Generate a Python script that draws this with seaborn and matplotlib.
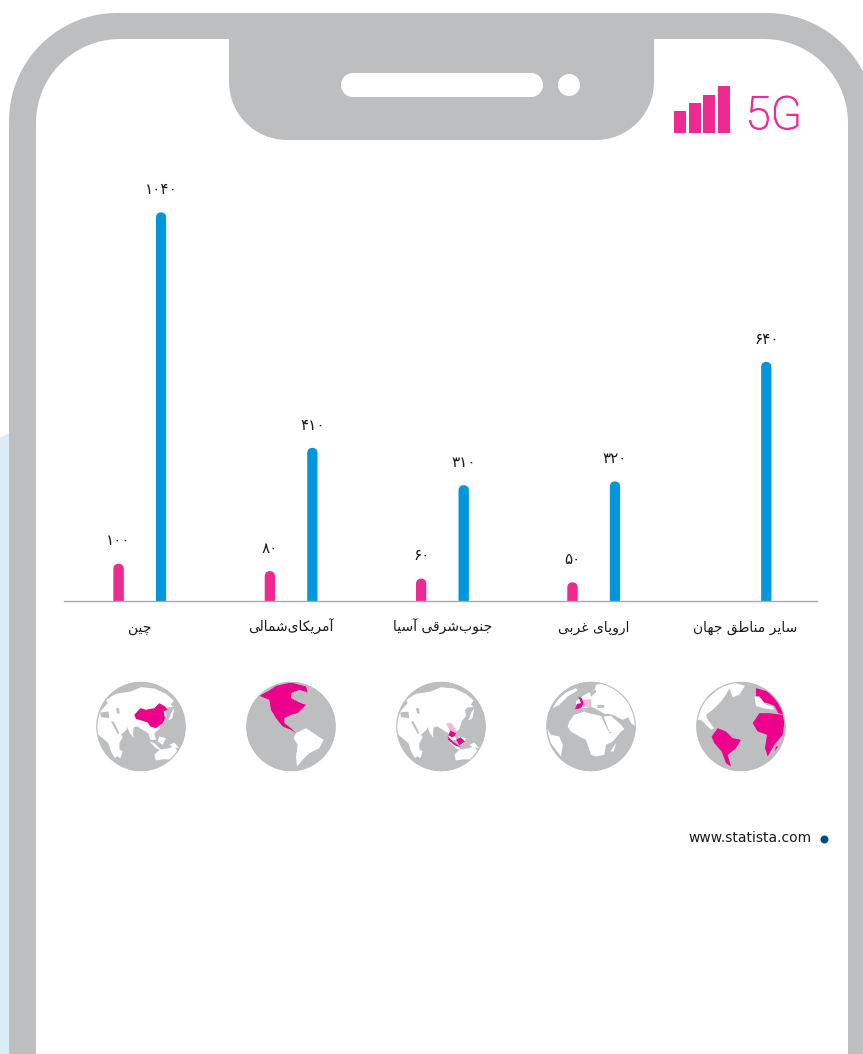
import numpy as np
import pandas as pd
import seaborn as sns
from matplotlib import patheffects
from matplotlib import pyplot as plt
from matplotlib.patches import Circle, Polygon, Rectangle
from matplotlib.transforms import IdentityTransform

regions = ["چین", "آمریکای\u200cشمالی", "جنوب\u200cشرقی آسیا", "اروپای غربی", "سایر مناطق جهان"]
series = ["current", "forecast"]
current_values = [100, 80, 60, 50, np.nan]
forecast_values = [1040, 410, 310, 320, 640]

GRAY = "#bcbec0"
PINK = "#ee2a91"
BLUE = "#0096dc"
GLOBE_PINK = "#ec008c"
FADE_PINK = "#f8b4d9"

# isolated, final, initial, medial presentation forms
FORMS = {
    "ا": "\ufe8d\ufe8e\ufe8d\ufe8e", "آ": "\ufe81\ufe82\ufe81\ufe82",
    "ب": "\ufe8f\ufe90\ufe91\ufe92", "پ": "\ufb56\ufb57\ufb58\ufb59",
    "ج": "\ufe9d\ufe9e\ufe9f\ufea0", "چ": "\ufb7a\ufb7b\ufb7c\ufb7d",
    "ر": "\ufead\ufeae\ufead\ufeae", "س": "\ufeb1\ufeb2\ufeb3\ufeb4",
    "ش": "\ufeb5\ufeb6\ufeb7\ufeb8", "ط": "\ufec1\ufec2\ufec3\ufec4",
    "غ": "\ufecd\ufece\ufecf\ufed0", "ق": "\ufed5\ufed6\ufed7\ufed8",
    "ک": "\ufb8e\ufb8f\ufb90\ufb91", "ل": "\ufedd\ufede\ufedf\ufee0",
    "م": "\ufee1\ufee2\ufee3\ufee4", "ن": "\ufee5\ufee6\ufee7\ufee8",
    "ه": "\ufee9\ufeea\ufeeb\ufeec", "و": "\ufeed\ufeee\ufeed\ufeee",
    "ی": "\ufbfc\ufbfd\ufbfe\ufbff",
}
RIGHT_ONLY = "اآرو"
DIGITS = str.maketrans("0123456789", "۰۱۲۳۴۵۶۷۸۹")


def shape(text):
    # matplotlib has no bidi or joining, so pick the forms and reverse by hand
    out = []
    for i, ch in enumerate(text):
        if ch not in FORMS:
            if ch != "\u200c":
                out.append(ch)
            continue
        prev_ch = text[i - 1] if i > 0 else " "
        next_ch = text[i + 1] if i < len(text) - 1 else " "
        joins_prev = prev_ch in FORMS and prev_ch not in RIGHT_ONLY
        joins_next = next_ch in FORMS and ch not in RIGHT_ONLY
        out.append(FORMS[ch][{(0, 0): 0, (1, 0): 1, (0, 1): 2, (1, 1): 3}[(int(joins_prev), int(joins_next))]])
    return "".join(reversed(out))


def persian_number(value):
    return str(int(value)).translate(DIGITS)


def arc(cx, cy, r, start, stop):
    t = np.radians(np.linspace(start, stop, 24))
    return np.column_stack([cx + r * np.cos(t), cy + r * np.sin(t)])


def rounded_box(x, y, w, h, r):
    return np.vstack([
        arc(x + r, y + r, r, 180, 270),
        arc(x + w - r, y + r, r, 270, 360),
        arc(x + w - r, y + h - r, r, 0, 90),
        arc(x + r, y + h - r, r, 90, 180),
    ])


def round_top(x0, y0, x1, y1):
    # display coordinates, y up
    r = (x1 - x0) / 2
    return np.vstack([[(x0, y0), (x1, y0)], arc(x0 + r, y1 - r, r, 0, 180)])


sns.set_style("white")
plt.rcParams["font.family"] = ["DejaVu Sans"]

fig = plt.figure(figsize=(8.63, 10.54), dpi=100)

# Phone frame, drawn in pixels
bg = fig.add_axes([0, 0, 1, 1])
bg.set_xlim(0, 863)
bg.set_ylim(1054, 0)
bg.axis("off")

bg.add_patch(Polygon([(0, 438), (9, 433), (9, 1054), (0, 1054)], fc="#dcecf6", ec="none"))
outer = Polygon(rounded_box(9, 13, 866, 1200, 108), fc=GRAY, ec="none")
bg.add_patch(outer)
bg.add_patch(Polygon(rounded_box(36, 39, 812, 1200, 84), fc="white", ec="none"))
notch = Polygon(rounded_box(229, -60, 425, 200, 58), fc=GRAY, ec="none")
bg.add_patch(notch)
notch.set_clip_path(outer)
bg.add_patch(Polygon(rounded_box(341, 73, 202, 24, 12), fc="white", ec="none"))
bg.add_patch(Circle((569, 85), 11, fc="white", ec="none"))

# Signal icon
for x0, top in [(674, 111), (689, 103), (703, 95), (718, 86)]:
    bg.add_patch(Rectangle((x0, top), 12, 133 - top, fc=PINK, ec="none"))
bg.text(745.5, 116, "5G", color=PINK, fontsize=33, family="Roboto", weight="light", ha="left", va="center",
        path_effects=[patheffects.withStroke(linewidth=0.7, foreground=PINK)])

# Globes, outlines traced on a 300 box around each globe
ASIA_LAND = [
    [(16, 140), (28, 105), (50, 80), (45, 70), (75, 52), (120, 45), (150, 32), (190, 36), (225, 52), (248, 72),
     (240, 84), (248, 92), (232, 92), (222, 100), (225, 118), (212, 135), (205, 158), (190, 170), (195, 190),
     (178, 190), (172, 170), (155, 160), (140, 150), (128, 152), (126, 170), (128, 185), (118, 172), (108, 150),
     (108, 158), (90, 175), (95, 182), (85, 200), (85, 235), (72, 245), (60, 225), (52, 200), (35, 185), (17, 170)],
    [(190, 235), (205, 220), (235, 215), (250, 208), (262, 230), (248, 250), (220, 248), (195, 252)],
    [(240, 110), (250, 95), (244, 125), (232, 132)],
    [(205, 180), (225, 185), (215, 205), (200, 195)],
    [(175, 195), (190, 200), (212, 222), (195, 215)],
    [(235, 205), (250, 198), (265, 215), (245, 212)],
    [(85, 218), (95, 225), (88, 245), (80, 240)],
]
ASIA_SEA = [
    [(28, 108), (52, 105), (55, 125), (30, 122)],
    [(60, 135), (68, 135), (85, 170), (80, 172)],
    [(75, 95), (84, 95), (86, 112), (78, 110)],
]
CHINA = [(130, 115), (148, 95), (165, 100), (190, 95), (205, 80), (222, 90), (230, 100), (218, 105), (222, 125),
         (215, 140), (195, 155), (178, 150), (170, 138), (145, 130), (135, 128)]
SEA_FADE = [(165, 140), (182, 140), (198, 165), (180, 170)]
SEA = [
    [(178, 162), (195, 170), (190, 180), (182, 182), (172, 176)],
    [(170, 180), (185, 195), (210, 212), (190, 206), (172, 190)],
    [(196, 190), (208, 182), (222, 195), (205, 206)],
]

AMERICA_PINK = [(55, 58), (85, 42), (105, 28), (150, 18), (195, 30), (200, 48), (175, 40), (150, 50), (150, 65),
                (180, 80), (195, 85), (170, 110), (150, 115), (130, 125), (130, 140), (150, 155), (165, 170),
                (150, 160), (125, 150), (105, 125), (90, 100), (85, 70)]
SOUTH_AMERICA = [(165, 170), (195, 155), (225, 175), (248, 190), (235, 215), (205, 230), (180, 255), (168, 270),
                 (165, 240), (170, 205), (158, 185)]

EUROPE_AFRICA = [
    [(105, 75), (130, 55), (160, 40), (165, 25), (205, 18), (250, 50), (280, 105), (285, 150), (270, 140),
     (262, 122), (245, 130), (222, 118), (205, 112), (190, 112), (170, 100), (150, 90), (135, 95), (105, 95)],
    [(188, 120), (210, 118), (240, 145), (250, 158), (225, 175), (205, 165)],
    [(85, 135), (100, 115), (130, 105), (150, 112), (180, 118), (205, 170), (238, 168), (215, 195), (195, 205),
     (190, 235), (165, 240), (150, 235), (135, 190), (115, 180), (90, 165), (80, 150)],
    [(225, 200), (218, 225), (208, 225)],
    [(50, 70), (75, 48), (105, 35), (110, 42), (80, 60), (55, 85), (35, 95)],
    [(14, 150), (30, 175), (55, 180), (65, 205), (60, 240), (30, 200)],
]
EUROPE_SEA = [[(168, 85), (190, 85), (190, 93), (170, 95)], [(145, 45), (165, 40), (165, 48), (150, 60)]]
EUROPE_FADE = [(124, 70), (150, 68), (150, 92), (124, 90)]
EUROPE_PINK = [(102, 98), (108, 82), (120, 80), (112, 60), (122, 65), (128, 80), (120, 95)]

WORLD_WHITE = [(15, 130), (40, 75), (90, 30), (125, 18), (162, 28), (145, 55), (125, 62), (115, 35), (105, 55),
               (90, 75), (65, 100), (45, 115), (50, 130), (70, 155), (60, 160), (30, 130)]
WORLD_PINK = [
    [(62, 180), (80, 155), (105, 165), (125, 185), (150, 190), (135, 215), (110, 235), (120, 270), (105, 260),
     (92, 225), (70, 200)],
    [(185, 140), (205, 110), (235, 110), (275, 115), (280, 140), (275, 175), (250, 205), (230, 240), (222, 215),
     (228, 175), (200, 165)],
    [(195, 35), (230, 45), (265, 80), (280, 115), (262, 110), (250, 88), (230, 80), (205, 75), (195, 60)],
    [(262, 210), (250, 225), (255, 210)],
]
WORLD_EUROPE = [(190, 60), (205, 60), (225, 85), (245, 90), (250, 100), (215, 95), (195, 88)]

globes = [
    (141, [(ASIA_LAND, "white"), (ASIA_SEA, GRAY), ([CHINA], GLOBE_PINK)]),
    (291, [([AMERICA_PINK], GLOBE_PINK), ([SOUTH_AMERICA], "white")]),
    (441, [(ASIA_LAND, "white"), (ASIA_SEA, GRAY), ([SEA_FADE], FADE_PINK), (SEA, GLOBE_PINK)]),
    (591, [(EUROPE_AFRICA, "white"), (EUROPE_SEA, GRAY), ([EUROPE_FADE], FADE_PINK), ([EUROPE_PINK], GLOBE_PINK)]),
    (741, [([WORLD_WHITE], "white"), (WORLD_PINK, GLOBE_PINK), ([WORLD_EUROPE], "white")]),
]
for cx, layers in globes:
    disc = Circle((cx, 726.5), 44.5, fc=GRAY, ec="none")
    bg.add_patch(disc)
    for shapes, colour in layers:
        for pts in shapes:
            p = Polygon((np.array(pts) - 150) / 3 + [cx, 726.5], fc=colour, ec="none")
            bg.add_patch(p)
            p.set_clip_path(disc)
    bg.add_patch(Circle((cx, 726.5), 44.2, fc="none", ec=GRAY, lw=0.8))

# Source
bg.text(812, 838, "www.statista.com", fontsize=10, color="#1a1a1a", ha="right", va="center")
bg.add_patch(Circle((824.5, 839.5), 4, fc="#004b8d", ec="none"))

# Chart
df = pd.DataFrame({
    "region": regions * 2,
    "period": [series[0]] * len(regions) + [series[1]] * len(regions),
    "users": current_values + forecast_values,
})

ax = fig.add_axes([64 / 863, (1054 - 601) / 1054, (817 - 64) / 863, 411 / 1054])
ax.patch.set_alpha(0)
sns.barplot(data=df, x="region", y="users", hue="period", hue_order=series, order=regions,
            palette=[PINK, BLUE], saturation=1, width=0.562, gap=0.76, legend=False, ax=ax)
ax.set_xlim(-0.5007, 4.476)
ax.set_ylim(0, 1100)
ax.set(xlabel="", ylabel="")
ax.set_yticks([])
ax.set_xticks(range(len(regions)))
ax.set_xticklabels([shape(r) for r in regions], fontsize=10, color="#1a1a1a", va="baseline")
ax.tick_params(axis="x", length=0, pad=22)
sns.despine(ax=ax, left=True)
ax.spines["bottom"].set_color("#a7a9ac")
ax.spines["bottom"].set_linewidth(1)

# Round the bar tops: clip each bar and lay a smooth edge over it
renderer = fig.canvas.get_renderer()
for container in ax.containers:
    for bar in container:
        h = bar.get_height()
        if not np.isfinite(h) or h <= 0:
            continue
        ext = bar.get_window_extent(renderer)
        cap = Polygon(round_top(ext.x0, ext.y0, ext.x1, ext.y1), transform=IdentityTransform(),
                      fc=bar.get_facecolor(), ec="none", zorder=bar.get_zorder() + 0.1)
        bar.set_clip_path(cap.get_path(), IdentityTransform())
        ax.add_artist(cap)
    ax.bar_label(container, fmt=persian_number, padding=11, fontsize=11, color="#1a1a1a")

fig.savefig("out.png", dpi=100)
